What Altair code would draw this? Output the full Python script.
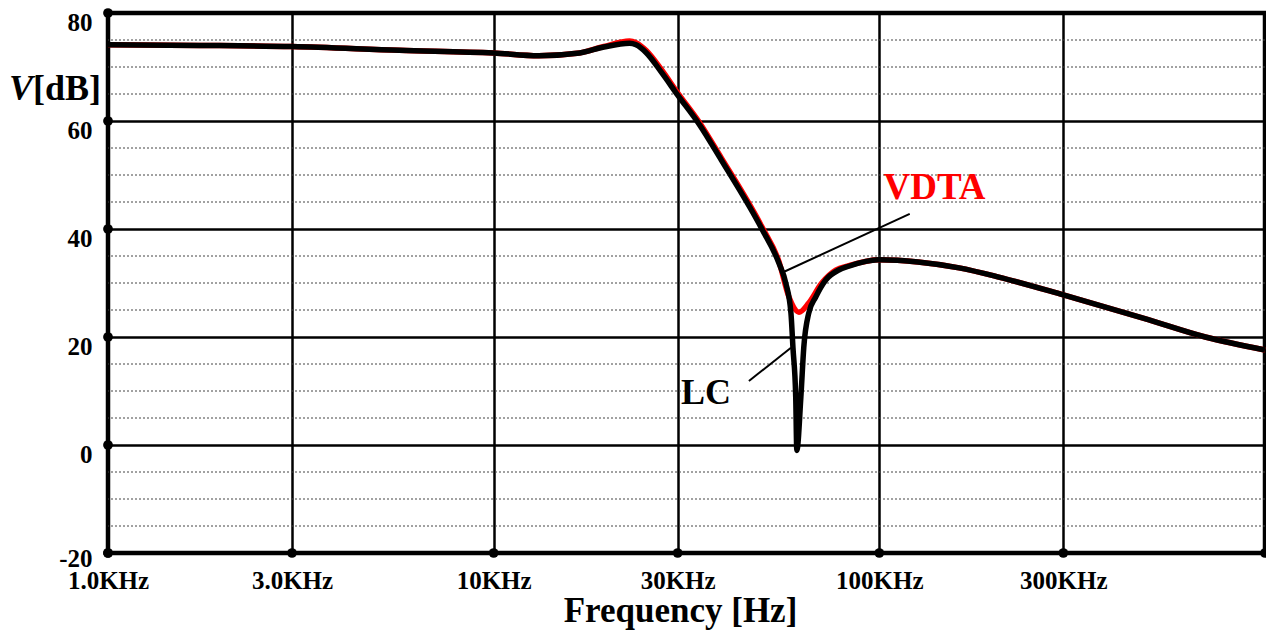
import altair as alt
import pandas as pd

# ---- data (frequency in kHz, level in dB) ----
freq_lc = [1.0, 1.73, 3.0, 5.7, 10, 13.1, 16.7, 19.3, 22.5, 23.4,
           24.9, 27.3, 30, 34.1, 38.9, 49.6, 54.9, 57.2, 59.0,
           59.7, 60.7, 61.1, 62.6, 63.7, 65.6, 68.4, 72.7, 78.5, 83.3,
           99.6, 126, 161, 204, 300, 498, 700, 1000]
db_lc = [74.1, 74.0, 73.8, 73.1, 72.6, 72.1, 72.6, 73.7, 74.4, 74.1,
         72.6, 68.9, 64.8, 59.4, 52.8, 40.0, 33.7, 30.0, 24.4,
         18.1, 8.9, -1.0, 8.9, 18.1, 24.4, 27.4, 30.6, 32.4, 33.1,
         34.3, 33.9, 32.8, 31.1, 27.8, 23.2, 20.0, 17.6]

freq_vdta = [1.0, 1.73, 3.0, 5.7, 10, 13.1, 16.7, 19.3, 22.5, 23.4,
             24.9, 27.3, 30, 34.1, 38.9, 49.6, 54.9, 58.3, 61.9,
             65.6, 70.9, 77.1, 83.3, 99.6, 126, 161, 204, 300, 498,
             700, 1000]
db_vdta = [74.1, 74.0, 73.8, 73.1, 72.6, 72.1, 72.6, 73.8, 74.8, 74.5,
           73.0, 69.4, 65.2, 59.8, 53.2, 40.4, 34.0, 27.4, 24.6,
           26.3, 30.0, 32.4, 33.2, 34.3, 33.9, 32.8, 31.1, 27.8, 23.2,
           20.0, 17.6]

x_tick_values = [1, 3, 10, 30, 100, 300]
x_tick_labels = ["1.0KHz", "3.0KHz", "10KHz", "30KHz", "100KHz", "300KHz"]
x_dot_values = [1, 3, 10, 30, 100, 300, 1000]
y_tick_values = [-20, 0, 20, 40, 60, 80]
y_minor_values = [-15, -10, -5, 5, 10, 15, 25, 30, 35, 45, 50, 55, 65, 70, 75]

# annotations (data units)
label_names = ["VDTA", "LC"]
label_freq = [102.5, 30.6]
label_db = [45.6, 7.6]
label_colors = ["#ff0000", "#000000"]
label_sizes = [37, 36]
leader_f1 = [55.9, 45.9]
leader_v1 = [31.9, 11.85]
leader_f2 = [119.9, 59.0]
leader_v2 = [42.8, 18.0]

FONT = "Liberation Serif"
W, H = 1157, 540

xs = alt.Scale(type="log", domain=[1, 1000], nice=False)
ys = alt.Scale(domain=[-20, 80], nice=False, zero=False)

label_expr = " : ".join(
    f"datum.value == {v} ? '{l}'" for v, l in zip(x_tick_values, x_tick_labels)
) + " : ''"

x_axis = alt.Axis(values=x_tick_values, labelExpr=label_expr, grid=True,
                  gridColor="black", gridWidth=2.5, ticks=False, domain=False,
                  labelFont=FONT, labelFontSize=25, labelFontWeight="bold",
                  labelColor="black", labelPadding=15, labelFlush=False,
                  labelOverlap=False, title="Frequency [Hz]", titleFont=FONT,
                  titleFontSize=35, titleFontWeight="bold", titleColor="black",
                  titleX=572, titleY=68, titleBaseline="alphabetic",
                  titleAlign="center", titleAnchor="start")
y_axis = alt.Axis(values=y_tick_values, labelExpr="datum.value + ''", grid=True,
                  gridColor="black", gridWidth=2.5, ticks=False, domain=False,
                  labelFont=FONT, labelFontSize=25, labelFontWeight="bold",
                  labelColor="black", labelPadding=16, labelBaseline="top",
                  labelOffset={"condition": {"test": "datum.value == -20", "value": -7},
                               "value": -3},
                  labelFlush=False, labelOverlap=False, title=None)

minor = alt.Chart(pd.DataFrame({"v": y_minor_values})).mark_rule(
    color="#444", strokeWidth=1, strokeDash=[2, 2]
).encode(y=alt.Y("v:Q", scale=ys, axis=y_axis))

df_v = pd.DataFrame({"f": freq_vdta, "v": db_vdta})
df_l = pd.DataFrame({"f": freq_lc, "v": db_lc})

line_v = alt.Chart(df_v).mark_line(color="#ff0000", strokeWidth=5.5,
                                   interpolate="monotone").encode(
    x=alt.X("f:Q", scale=xs, axis=x_axis), y=alt.Y("v:Q", scale=ys, axis=y_axis))
line_l = alt.Chart(df_l).mark_line(color="black", strokeWidth=5.5,
                                   interpolate="monotone").encode(
    x=alt.X("f:Q", scale=xs), y=alt.Y("v:Q", scale=ys))

leaders = alt.Chart(pd.DataFrame({"f": leader_f1, "v": leader_v1,
                                  "f2": leader_f2, "v2": leader_v2})).mark_rule(
    color="black", strokeWidth=2).encode(
    x=alt.X("f:Q", scale=xs), y=alt.Y("v:Q", scale=ys), x2="f2:Q", y2="v2:Q")

labels = alt.Chart(pd.DataFrame({"f": label_freq, "v": label_db, "t": label_names,
                                 "c": label_colors, "s": label_sizes})).mark_text(
    font=FONT, fontWeight="bold", align="left",
    baseline="alphabetic").encode(
    x=alt.X("f:Q", scale=xs), y=alt.Y("v:Q", scale=ys), text="t:N",
    color=alt.Color("c:N", scale=None), size=alt.Size("s:Q", scale=None))

dots_y = alt.Chart(pd.DataFrame({"v": y_tick_values, "f": [1] * len(y_tick_values)})).mark_point(
    filled=True, shape="circle", size=95, color="black", opacity=1).encode(
    x=alt.X("f:Q", scale=xs), y=alt.Y("v:Q", scale=ys))
dots_x = alt.Chart(pd.DataFrame({"f": x_dot_values, "v": [-20] * len(x_dot_values)})).mark_point(
    filled=True, shape="circle", size=95, color="black", opacity=1).encode(
    x=alt.X("f:Q", scale=xs), y=alt.Y("v:Q", scale=ys))

ytitle_df = pd.DataFrame({"t": ["[dB]"], "i": ["V"]})
ytitle_a = alt.Chart(ytitle_df).mark_text(
    font=FONT, fontSize=36, fontWeight="bold", align="left",
    baseline="alphabetic", color="black").encode(
    x=alt.value(-75), y=alt.value(87), text="t:N")
ytitle_b = alt.Chart(ytitle_df).mark_text(
    font=FONT, fontSize=36, fontWeight="bold", fontStyle="italic", align="right",
    baseline="alphabetic", color="black").encode(
    x=alt.value(-75), y=alt.value(87), text="i:N")

chart = alt.layer(minor, line_v, line_l, leaders, labels, dots_y, dots_x,
                  ytitle_a, ytitle_b).properties(
    width=W, height=H,
    background="white",
    autosize=alt.AutoSizeParams(type="none"),
    padding={"left": 100, "top": 5, "right": 1, "bottom": 77},
).configure_view(stroke="black", strokeWidth=4.5)

chart.save("out.html", embed_options={"renderer": "svg", "actions": False})
